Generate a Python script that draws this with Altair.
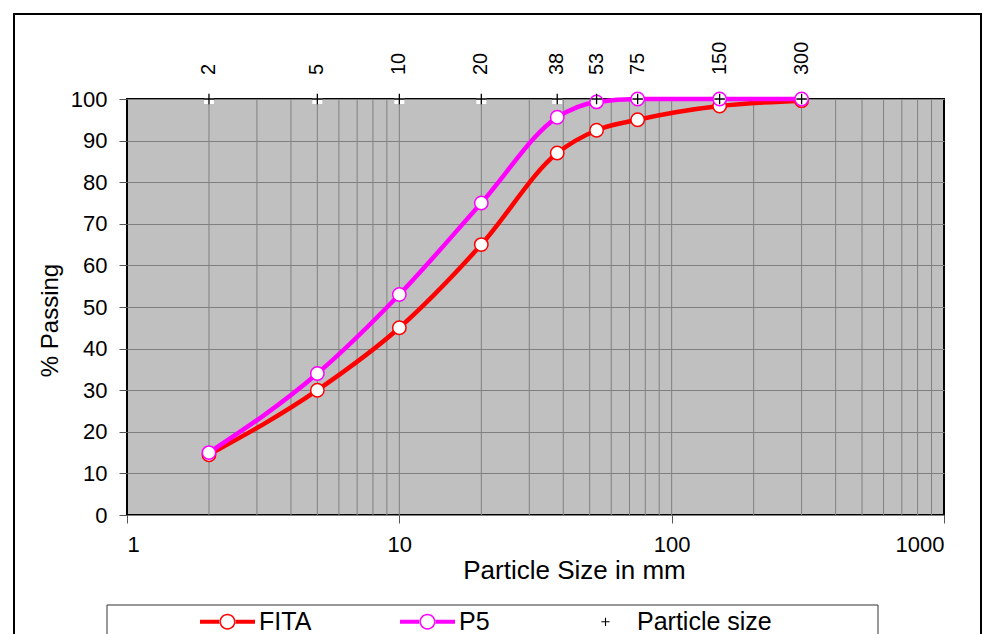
import altair as alt
import pandas as pd

# ---- data ----
sizes = [2, 5, 10, 20, 38, 53, 75, 150, 300]
fita = [14.5, 30, 45, 65, 87, 92.5, 95, 98.3, 99.6]
p5 = [15, 34, 53, 75, 95.6, 99.3, 100, 100, 100]
particle_level = [100, 100, 100, 100, 100, 100, 100, 100, 100]
particle_labels = ["2", "5", "10", "20", "38", "53", "75", "150", "300"]

x_ticks = [1, 10, 100, 1000]
y_ticks = [0, 10, 20, 30, 40, 50, 60, 70, 80, 90, 100]
minor_grid = [2, 3, 4, 5, 6, 7, 8, 9, 10, 20, 30, 40, 50, 60, 70, 80, 90, 100,
              200, 300, 400, 500, 600, 700, 800, 900]

series_names = ["FITA", "P5", "Particle size"]
series_colors = ["#FF0000", "#FF00FF", "#000000"]

# ---- tables ----
curves = pd.DataFrame(
    {"size": sizes * 2, "pct": fita + p5, "series": ["FITA"] * len(sizes) + ["P5"] * len(sizes)}
)
particles = pd.DataFrame(
    {"size": sizes, "pct": particle_level, "label": particle_labels, "series": ["Particle size"] * len(sizes)}
)
grid_df = pd.DataFrame({"g": minor_grid})

FONT = "Liberation Sans"

xscale = alt.Scale(type="log", domain=[1, 1000], nice=False)
yscale = alt.Scale(domain=[0, 100], nice=False)
cscale = alt.Scale(domain=series_names, range=series_colors)

line_ring = ("M-1,-0.075H-0.27V0.075H-1Z M0.27,-0.075H1V0.075H0.27Z "
             "M0.29,0A0.29,0.29 0 1,0 -0.29,0A0.29,0.29 0 1,0 0.29,0Z "
             "M0.235,0A0.235,0.235 0 1,1 -0.235,0A0.235,0.235 0 1,1 0.235,0Z")
plus_path = "M-0.15,-0.02H0.15V0.02H-0.15Z M-0.02,-0.15H0.02V0.15H-0.02Z"
shape_scale = alt.Scale(domain=series_names, range=[line_ring, line_ring, plus_path])

X = alt.X(
    "size:Q",
    scale=xscale,
    axis=alt.Axis(
        values=x_ticks, format="d", grid=False, domain=False,
        title="Particle Size in mm", titleX=447, titleY=63, titleBaseline="alphabetic",
        titleFontSize=26, titleFontWeight="normal", titleFont=FONT,
        labelFontSize=22, labelFont=FONT, labelPadding=11, tickSize=8,
        tickColor="#555555", labelColor="black", titleColor="black",
    ),
)
Y = alt.Y(
    "pct:Q",
    scale=yscale,
    axis=alt.Axis(
        values=y_ticks, grid=True, gridColor="#808080", gridWidth=1, domain=False,
        title="% Passing", titleX=-77, titleY=221, titleBaseline="middle", titleAlign="center",
        titleFontSize=24, titleFontWeight="normal", titleFont=FONT,
        labelFontSize=22, labelFont=FONT, labelPadding=12, tickSize=8,
        tickColor="#555555", labelColor="black", titleColor="black",
    ),
)

# decorations: outer frame and legend box
frame = alt.Chart(alt.Data(values=[{}])).mark_rect(
    fill=None, stroke="black", strokeWidth=2, clip=False
).encode(x=alt.value(-113), x2=alt.value(854), y=alt.value(-85), y2=alt.value(640))

legend_box = alt.Chart(alt.Data(values=[{}])).mark_rect(
    fill="white", stroke="#333333", strokeWidth=1, clip=False
).encode(x=alt.value(-20), x2=alt.value(751), y=alt.value(506), y2=alt.value(640))

vgrid = alt.Chart(grid_df).mark_rule(color="#808080", strokeWidth=1).encode(
    x=alt.X("g:Q", scale=xscale)
)

squares = alt.Chart(particles).mark_square(color="white", size=100, opacity=1).encode(
    x=alt.X("size:Q", scale=xscale), y=alt.Y("pct:Q", scale=yscale)
)

line_layers = []
circle_layers = []
for name, col in zip(series_names[:2], series_colors[:2]):
    line_layers.append(
        alt.Chart(curves).transform_filter(alt.datum.series == name)
        .mark_line(strokeWidth=4.5, interpolate="monotone", color=col)
        .encode(x=X, y=Y)
    )
    circle_layers.append(
        alt.Chart(curves).transform_filter(alt.datum.series == name)
        .mark_point(shape="circle", size=180, filled=True, fill="white", stroke=col,
                    strokeWidth=1.5, opacity=1)
        .encode(x=alt.X("size:Q", scale=xscale), y=alt.Y("pct:Q", scale=yscale))
    )

pluses = alt.Chart(particles).mark_point(
    shape="M-1,0H1M0,-1V1", size=110, stroke="black", strokeWidth=1.3, filled=False, opacity=1
).encode(x=alt.X("size:Q", scale=xscale), y=alt.Y("pct:Q", scale=yscale))

labels = alt.Chart(particles).mark_text(
    angle=270, align="left", baseline="middle", dx=24, fontSize=20, font=FONT, color="black"
).encode(x=alt.X("size:Q", scale=xscale), y=alt.Y("pct:Q", scale=yscale), text="label:N")

# legend-only layer: no rows, the legend is built from the explicit scale domain
legend_layer = alt.Chart(alt.Data(values=[])).mark_point(filled=True, opacity=1).encode(
    x=alt.X("size:Q", scale=xscale), y=alt.Y("pct:Q", scale=yscale),
    color=alt.Color(
        "series:N", scale=cscale,
        legend=alt.Legend(
            title=None, orient="none", legendX=73, legendY=495, direction="horizontal",
            symbolSize=3025, labelFontSize=25, labelFont=FONT, labelColor="black",
            columnPadding=88, labelOffset=4, symbolStrokeWidth=0, symbolOpacity=1,
            padding=0,
        ),
    ),
    shape=alt.Shape("series:N", scale=shape_scale),
)

chart = alt.layer(
    frame, legend_box, vgrid, squares, *line_layers, *circle_layers, pluses, labels, legend_layer
).properties(
    width=817, height=416,
    autosize=alt.AutoSizeParams(type="none"),
    padding={"left": 127, "top": 99, "right": 39, "bottom": 119},
    background="white",
).configure(font=FONT).configure_view(
    stroke="black", strokeWidth=2, fill="#C0C0C0"
)

chart.save("out.html", embed_options={"renderer": "svg", "actions": False})
